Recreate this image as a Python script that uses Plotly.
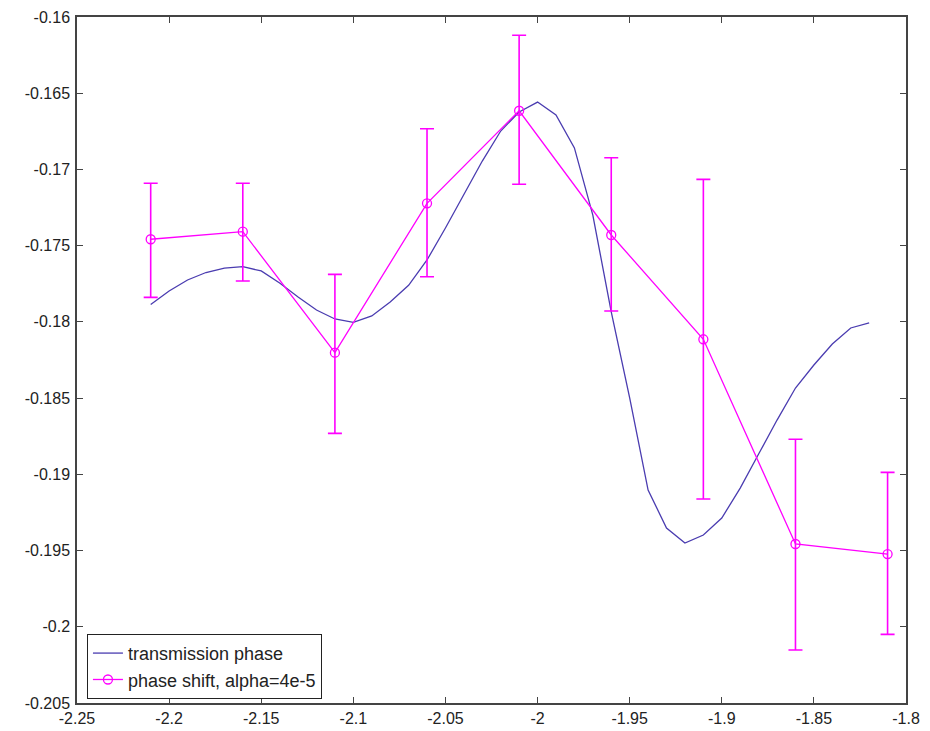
import plotly.graph_objects as go

# Transmission phase curve
trans_x = [-2.21, -2.20, -2.19, -2.18, -2.17, -2.16, -2.15, -2.14, -2.13, -2.12,
           -2.11, -2.10, -2.09, -2.08, -2.07, -2.06, -2.05, -2.04, -2.03, -2.02,
           -2.01, -2.00, -1.99, -1.98, -1.97, -1.96, -1.95, -1.94, -1.93, -1.92,
           -1.91, -1.90, -1.89, -1.88, -1.87, -1.86, -1.85, -1.84, -1.83, -1.82]
trans_y = [-0.17886, -0.17797, -0.17725, -0.17676, -0.17647, -0.17638, -0.17666, -0.17745, -0.17837, -0.17922,
           -0.17981, -0.18003, -0.17961, -0.17870, -0.17760, -0.17594, -0.17384, -0.17168, -0.16945, -0.16748,
           -0.16623, -0.16558, -0.16643, -0.16859, -0.17299, -0.17935, -0.18499, -0.19103, -0.19352, -0.19451,
           -0.19398, -0.19287, -0.19090, -0.18867, -0.18644, -0.18434, -0.18283, -0.18145, -0.18040, -0.18007]

# Phase shift points with error bars
shift_x = [-2.21, -2.16, -2.11, -2.06, -2.01, -1.96, -1.91, -1.86, -1.81]
shift_y = [-0.17458, -0.17408, -0.18202, -0.17222, -0.16615, -0.17430, -0.18114, -0.19457, -0.19523]
err_plus = [0.00367, 0.00317, 0.00514, 0.00489, 0.00495, 0.00507, 0.01049, 0.00687, 0.00536]
err_minus = [0.00381, 0.00324, 0.00529, 0.00482, 0.00482, 0.00499, 0.01048, 0.00695, 0.00527]

x_ticks = [-2.25, -2.2, -2.15, -2.1, -2.05, -2, -1.95, -1.9, -1.85, -1.8]
x_labels = ["-2.25", "-2.2", "-2.15", "-2.1", "-2.05", "-2", "-1.95", "-1.9", "-1.85", "-1.8"]
y_ticks = [-0.16, -0.165, -0.17, -0.175, -0.18, -0.185, -0.19, -0.195, -0.2, -0.205]
y_labels = ["-0.16", "-0.165", "-0.17", "-0.175", "-0.18", "-0.185", "-0.19", "-0.195", "-0.2", "-0.205"]

FONT = "Liberation Sans, Arial, sans-serif"

fig = go.Figure()
fig.add_trace(go.Scatter(
    x=trans_x, y=trans_y, mode="lines", name="transmission phase",
    line=dict(color="#4a3cb0", width=1.3),
))
fig.add_trace(go.Scatter(
    x=shift_x, y=shift_y, mode="lines+markers", name="phase shift, alpha=4e-5",
    line=dict(color="#ff00ff", width=1.3),
    marker=dict(symbol="circle-open", size=9, color="#ff00ff", line=dict(width=1.3)),
    error_y=dict(type="data", array=err_plus, arrayminus=err_minus, visible=True,
                 color="#ff00ff", thickness=1.6, width=7),
))

axis_common = dict(
    showgrid=False, zeroline=False, showline=True, linecolor="#444", linewidth=1.5,
    mirror="ticks", ticks="inside", ticklen=6, tickcolor="#444", tickwidth=1.2,
    tickfont=dict(family=FONT, size=16, color="#222"), automargin=False,
)

fig.update_xaxes(range=[-2.25, -1.8], tickvals=x_ticks, ticktext=x_labels, **axis_common)
fig.update_yaxes(range=[-0.205, -0.16], tickvals=y_ticks, ticktext=y_labels,
                 ticklabelstandoff=2, **axis_common)

fig.update_layout(
    width=930, height=731,
    margin=dict(l=77, r=24, t=17, b=28),
    paper_bgcolor="white", plot_bgcolor="white",
    showlegend=True,
    legend=dict(x=0.012, y=0.006, xanchor="left", yanchor="bottom",
                bgcolor="white", bordercolor="#222", borderwidth=1,
                font=dict(family=FONT, size=18, color="#222"),
                tracegroupgap=0, itemsizing="trace"),
)

fig.write_html("out.html")
